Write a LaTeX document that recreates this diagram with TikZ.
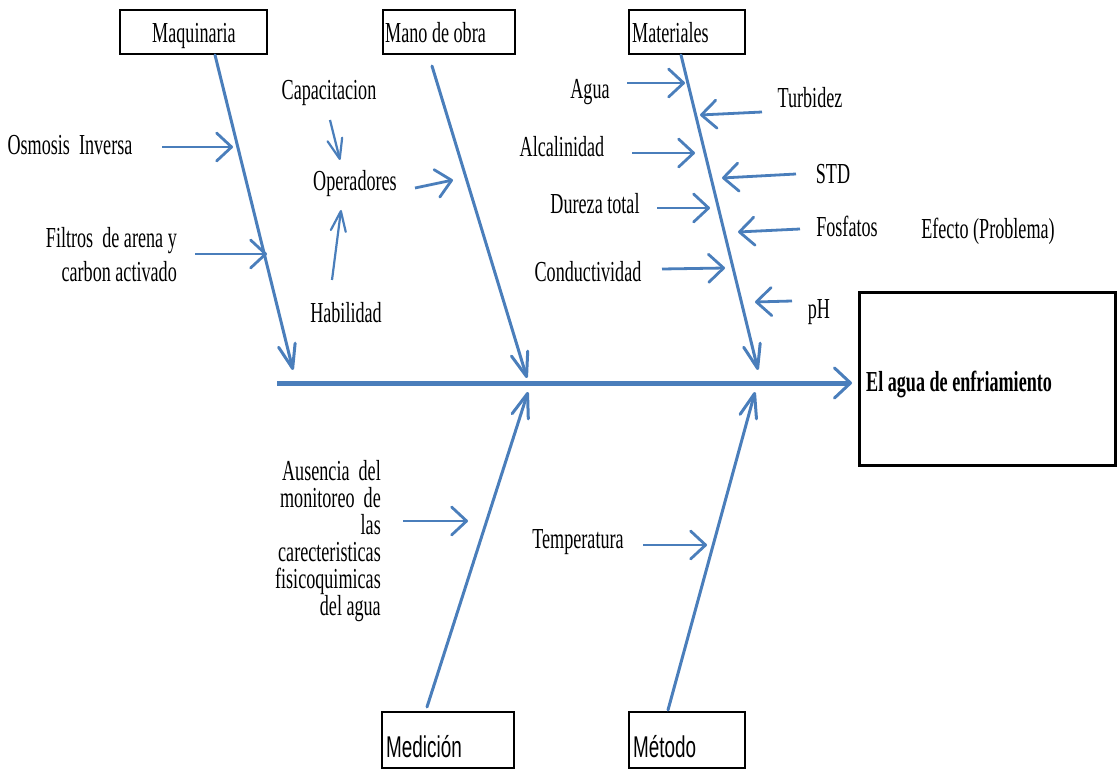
\documentclass[tikz,border=0pt]{standalone}
\usepackage{fontspec}
\setmainfont{Liberation Serif}[FakeStretch=0.625]
\newfontfamily\boxsans{Liberation Sans}[FakeStretch=0.63]
\usetikzlibrary{arrows.meta}
\definecolor{bone}{RGB}{74,126,187}

\begin{document}
\begin{tikzpicture}[x=1pt,y=-1pt,
  every node/.style={inner sep=0pt, font=\fontsize{29}{27}\selectfont},
  catbox/.style={draw=black, line width=1.5pt, fill=white},
  effbox/.style={draw=black, line width=3pt},
  mainbone/.style={draw=bone, line width=3pt, line cap=round,
    -{Straight Barb[length=24pt,width=17pt,line cap=round,line join=round]}},
  cause/.style={draw=bone, line width=2.8pt,
    -{Straight Barb[length=15pt,width=28pt,line cap=round,line join=round]}},
  twig/.style={draw=bone, line width=2.2pt,
    -{Straight Barb[length=20pt,width=15pt,line cap=round,line join=round]}},
  spine/.style={draw=bone, line width=5pt,
    -{Straight Barb[length=16pt,width=30pt,line width=3pt,line cap=round,line join=round]}},
  txt/.style={anchor=base},
  txtl/.style={anchor=base west},
  txtr/.style={anchor=base east, align=right}
]
\useasboundingbox (0,0) rectangle (1117,770);

% category boxes
\node[catbox, minimum width=147, minimum height=44] (maq) at (193.5,32) {};
\node[catbox, minimum width=132, minimum height=44] (mano) at (449,32) {};
\node[catbox, minimum width=116, minimum height=44] (mat) at (687,32) {};
\node[catbox, minimum width=132, minimum height=56] (med) at (448,740) {};
\node[catbox, minimum width=116, minimum height=56] (met) at (687,740) {};
\node[txt]  (maqT)  at (194,43) {Maquinaria};
\node[txtl] (manoT) at (385,43) {Mano de obra};
\node[txtl] (matT)  at (632,43) {Materiales};
\node[txtl, font=\fontsize{30}{30}\boxsans] (medT) at (386,757) {Medición};
\node[txtl, font=\fontsize{30}{30}\boxsans] (metT) at (633,757) {Método};

% effect
\node[effbox, minimum width=256, minimum height=172] (eff) at (987,379) {};
\node[txtl, font=\fontsize{29}{29}\selectfont\bfseries] (effT) at (866,391) {El agua de enfriamiento};
\node[txt] (effH) at (988,239) {Efecto (Problema)};

% spine and main bones
\coordinate (spA) at (277,383);
\coordinate (spB) at (852,383);
\draw[spine] (spA) -- (spB);

\coordinate (maqA) at (215,55);  \coordinate (maqB) at (293,370);
\coordinate (manoA) at (432,66); \coordinate (manoB) at (527,378);
\coordinate (matA) at (681,55);  \coordinate (matB) at (758,370);
\coordinate (medA) at (427,707); \coordinate (medB) at (528,392);
\coordinate (metA) at (668,710); \coordinate (metB) at (755,392);
\draw[mainbone] (maqA) -- (maqB);
\draw[mainbone] (manoA) -- (manoB);
\draw[mainbone] (matA) -- (matB);
\draw[mainbone] (medA) -- (medB);
\draw[mainbone] (metA) -- (metB);

% Maquinaria causes (multi-line nodes sit on their last baseline)
\node[txt] (osm) at (70,155) {Osmosis\ \ Inversa};
\node[txtr, font=\fontsize{29}{34}\selectfont] (fil) at (177,281) {Filtros\ \ de arena y\\carbon\ activado};
\coordinate (osmA) at (162,147); \coordinate (osmB) at (233,147);
\coordinate (filA) at (195,254); \coordinate (filB) at (267,254);
\draw[cause] (osmA) -- (osmB);
\draw[cause] (filA) -- (filB);

% Mano de obra causes
\node[txt] (cap) at (329,100) {Capacitacion};
\node[txt] (ope) at (355,191) {Operadores};
\node[txt] (hab) at (346,323) {Habilidad};
\coordinate (capA) at (330,120); \coordinate (capB) at (340,160);
\coordinate (habA) at (332,280); \coordinate (habB) at (341,210);
\coordinate (opeA) at (415,188); \coordinate (opeB) at (453,180);
\draw[twig] (capA) -- (capB);
\draw[twig] (habA) -- (habB);
\draw[cause] (opeA) -- (opeB);

% Materiales causes
\node[txt] (agu) at (590,99)  {Agua};
\node[txt] (tur) at (810,108) {Turbidez};
\node[txt] (alc) at (562,157) {Alcalinidad};
\node[txt] (std) at (833,184) {STD};
\node[txt] (dur) at (595,214) {Dureza\ total};
\node[txt] (fos) at (847,237) {Fosfatos};
\node[txt] (con) at (588,281) {Conductividad};
\node[txt] (ph)  at (819,318) {pH};
\coordinate (aguA) at (627,83);  \coordinate (aguB) at (685,83);
\coordinate (turA) at (762,112); \coordinate (turB) at (700,115);
\coordinate (alcA) at (632,153); \coordinate (alcB) at (695,153);
\coordinate (stdA) at (796,174); \coordinate (stdB) at (722,178);
\coordinate (durA) at (657,208); \coordinate (durB) at (710,208);
\coordinate (fosA) at (800,229); \coordinate (fosB) at (738,232);
\coordinate (conA) at (662,269); \coordinate (conB) at (725,268);
\coordinate (phA)  at (792,301); \coordinate (phB)  at (755,302);
\foreach \c in {agu,tur,alc,std,dur,fos,con,ph}
  \draw[cause] (\c A) -- (\c B);

% Medicion and Metodo causes
\node[txtr] (aus) at (381,615) {Ausencia\ \ del\\monitoreo\ \ de\\las\\carecteristicas\\fisicoquimicas\\del agua};
\node[txt] (tem) at (578,548) {Temperatura};
\coordinate (ausA) at (403,521); \coordinate (ausB) at (468,521);
\coordinate (temA) at (643,545); \coordinate (temB) at (707,545);
\draw[cause] (ausA) -- (ausB);
\draw[cause] (temA) -- (temB);
\end{tikzpicture}
\end{document}
